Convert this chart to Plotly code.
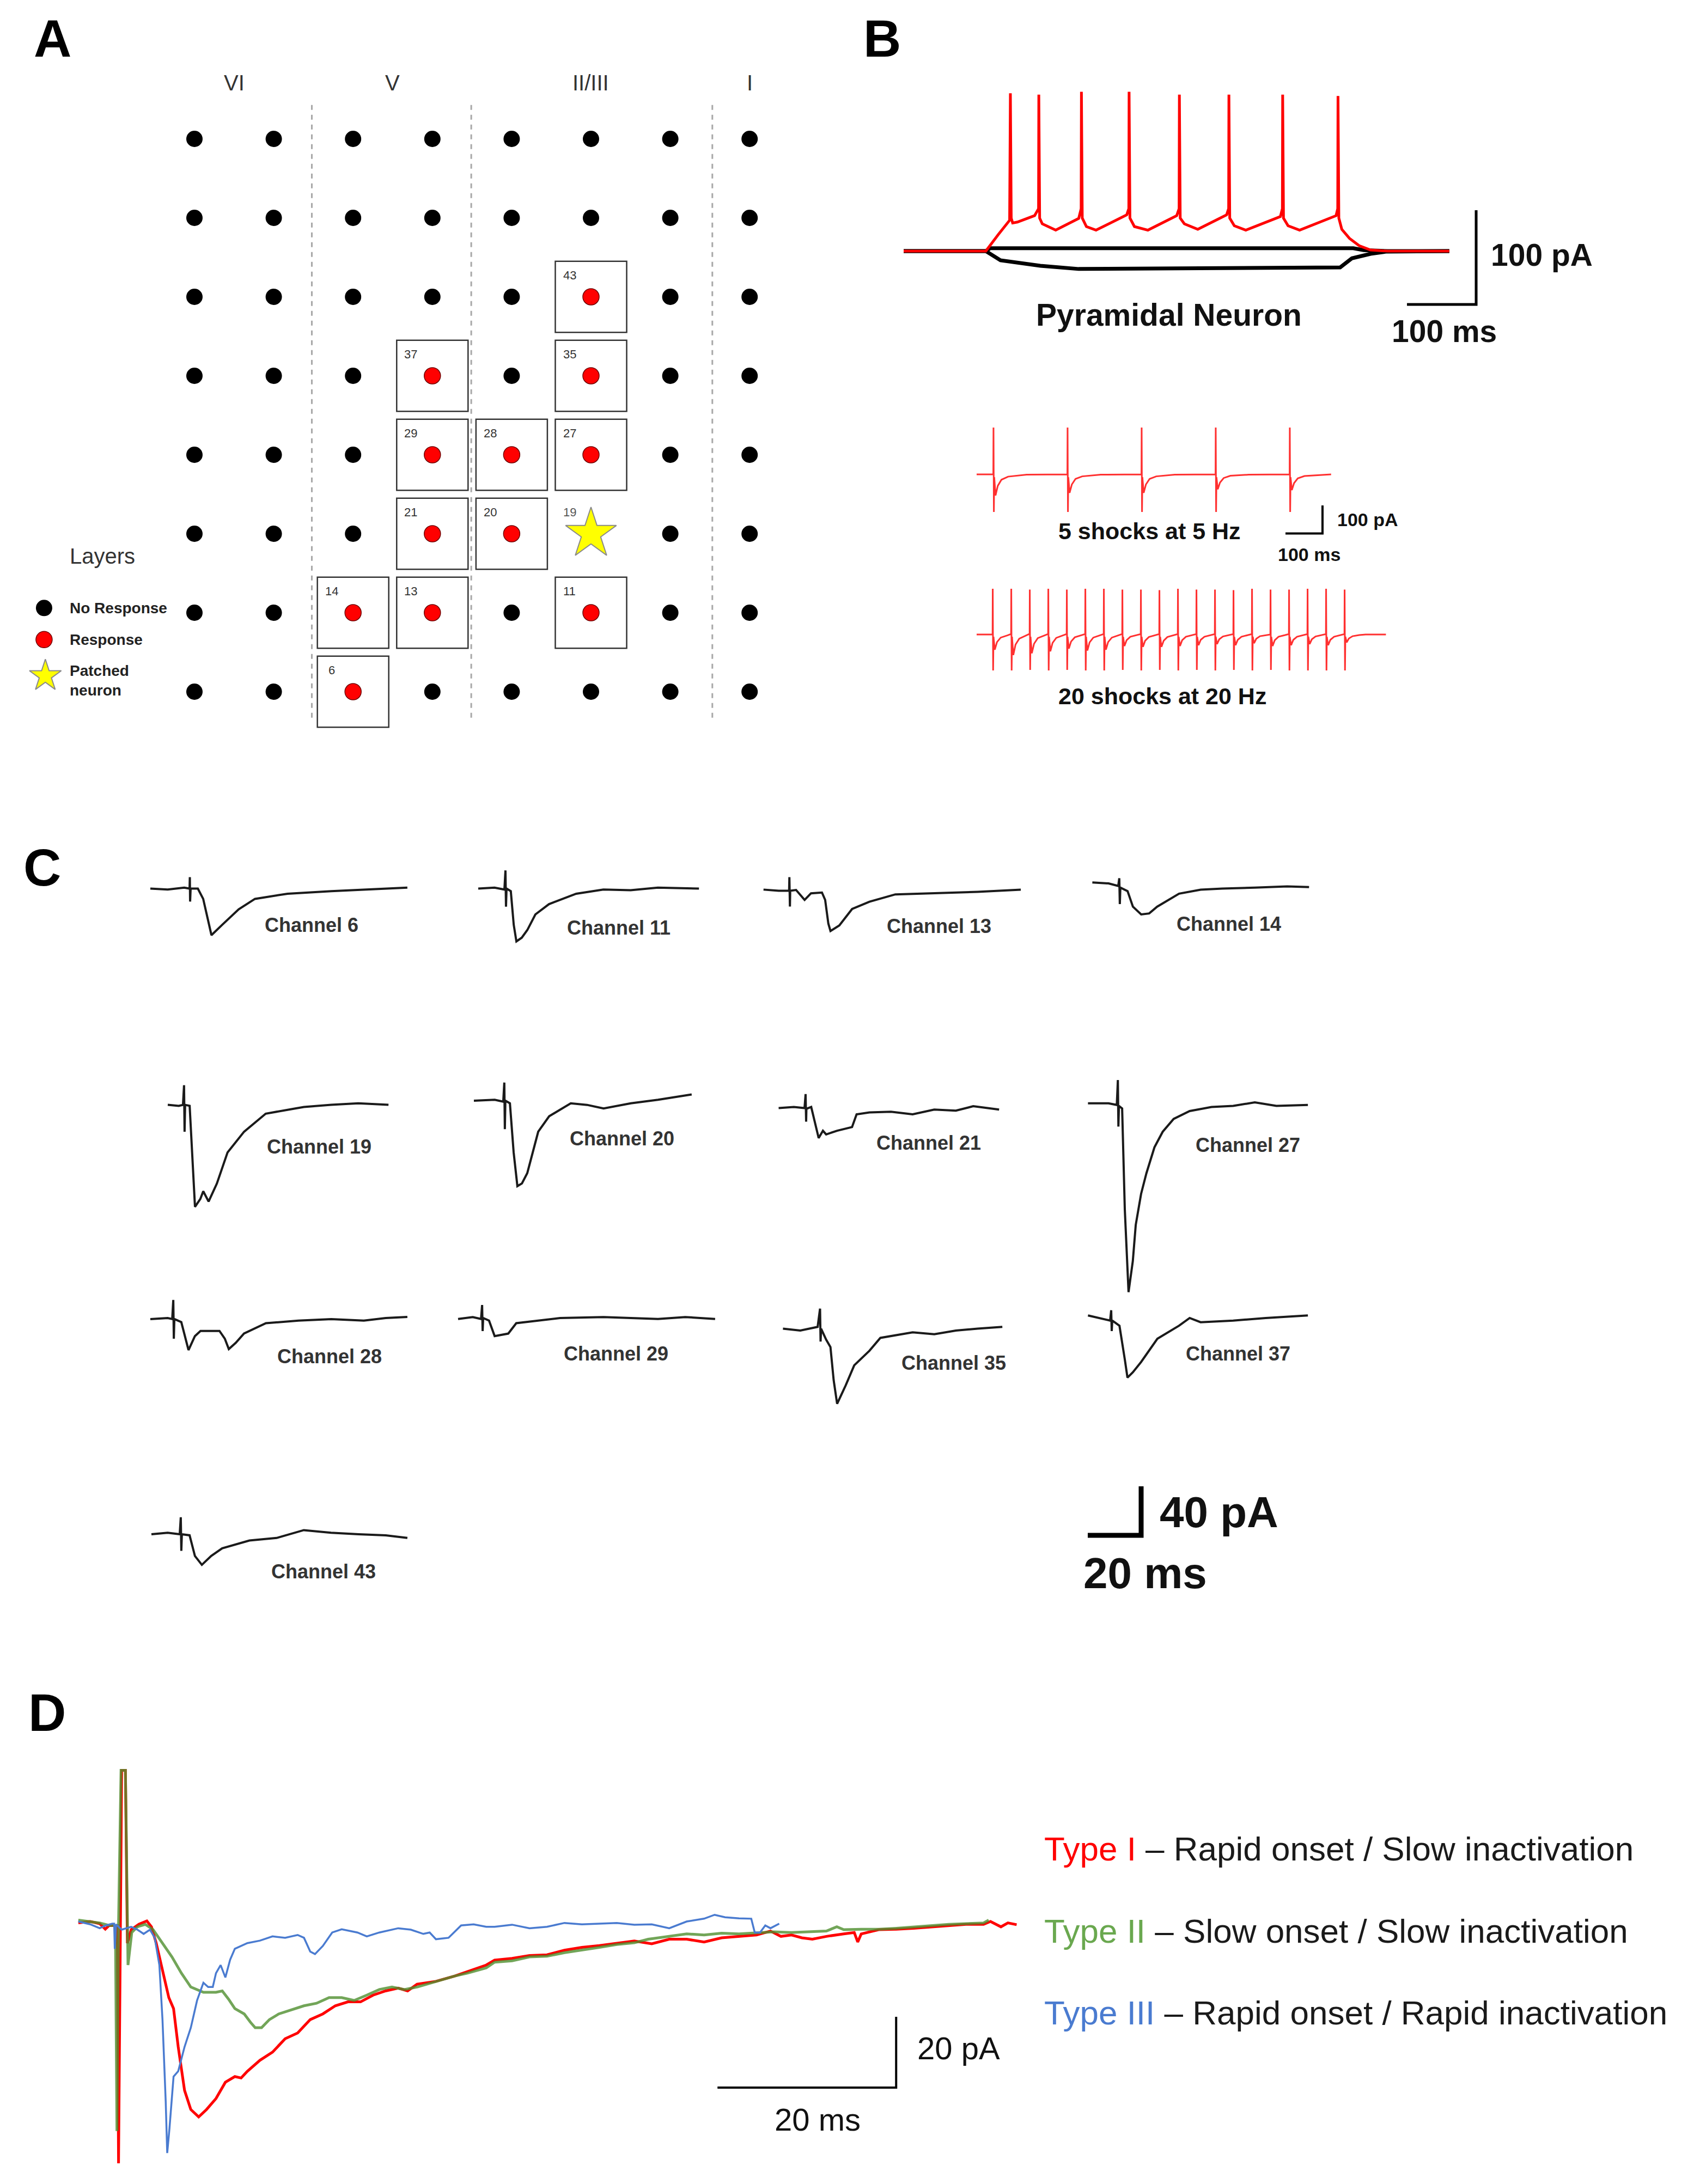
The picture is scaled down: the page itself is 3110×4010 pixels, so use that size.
import plotly.graph_objects as go

W, H = 3110, 4010
FONT = "Liberation Sans, Arial, sans-serif"

# ---------------- Panel A data (grid columns 1..8, rows 1..8 from top) ----------------
A_COLS = [1, 2, 3, 4, 5, 6, 7, 8]
A_ROWS = [1, 2, 3, 4, 5, 6, 7, 8]
A_LAYER_NAMES = ["VI", "V", "II/III", "I"]
A_LAYER_CENTERS = [1.5, 3.5, 6.0, 8.0]
A_LAYER_BOUNDS = [2.48, 4.49, 7.53]
A_RESP_COL = [6, 4, 6, 4, 5, 6, 4, 5, 3, 4, 6, 3]
A_RESP_ROW = [3, 4, 4, 5, 5, 5, 6, 6, 7, 7, 7, 8]
A_RESP_CH = [43, 37, 35, 29, 28, 27, 21, 20, 14, 13, 11, 6]
A_PATCH_COL, A_PATCH_ROW, A_PATCH_CH = 6, 6, 19
A_LEGEND = ["No Response", "Response", "Patched<br>neuron"]

# ---------------- Panel B data (ms, pA) ----------------
B_RED = [(0, 0), (118.8, 0), (136.6, 17.3), (153.2, 32.7), (154.3, 167.5), (155.5, 35), (157.6, 29.8),
         (164.3, 30.8), (189.3, 37.6), (195.0, 45), (195.4, 166), (196.6, 35), (200.4, 28.9),
         (219.8, 22.2), (253.1, 34.7), (256.6, 45), (257.0, 169), (258.2, 35), (264.2, 26),
         (278.1, 22.2), (322.5, 38.5), (325.5, 45), (325.9, 169), (327.1, 35), (333.6, 26),
         (353.1, 22.2), (394.7, 37.6), (398.2, 45), (398.6, 166), (399.8, 35), (405.8, 28.9),
         (425.2, 23.1), (466.9, 38.5), (469.8, 45), (470.2, 166), (471.4, 35), (478.0, 26.9),
         (494.6, 22.2), (544.6, 36.6), (547.5, 45), (547.9, 166), (549.1, 35), (555.7, 26.9),
         (572.4, 22.2), (625.1, 37.6), (627.5, 45), (627.9, 164.6), (629.1, 35), (633.4, 23.1),
         (644.5, 13.5), (658.4, 5.8), (675.0, 1.1), (700.0, 0), (788.8, 0)]
B_BLACK_UP = [(0, 0), (118.8, 0), (125, 3), (650, 3), (665, 1), (700, 0), (788.8, 0)]
B_BLACK_DOWN = [(0, 0), (118.8, 0), (140, -9.8), (197.6, -15.6), (253, -19), (631, -17.4),
                (648, -7.7), (675, -2.9), (697, -0.6), (788.8, 0)]
B_TOP_BAR = (827.6, -56.6, 100, 100)   # corner ms, corner pA, length ms, length pA

B_5HZ = [(0, 0),
         (45, 0), (45.5, 167), (46.5, -134), (47.5, -10), (51, -75), (57, -41), (67, -19), (85, -8), (135, -1),
         (245, 0), (245.5, 167), (246.5, -134), (247.5, -10), (251, -66), (257, -36), (267, -16), (285, -7), (335, -1),
         (445, 0), (445.5, 167), (446.5, -134), (447.5, -10), (451, -66), (457, -36), (467, -16), (485, -7), (535, -1),
         (645, 0), (645.5, 167), (646.5, -134), (647.5, -10), (651, -53), (657, -29), (667, -13), (685, -5), (735, -1),
         (845, 0), (845.5, 167), (846.5, -134), (847.5, -10), (851, -56), (857, -31), (867, -14), (885, -6), (935, -1),
         (957, 0)]
B_SMALL_BAR = (933.8, -210.7, 100, 100)

B_20HZ = [(0, 0),
          (43, 0), (43.5, 163), (44.5, -128), (45.5, -8), (49, -54), (55, -27), (65, -11), (83, -3), (91, 1),
          (93, 0), (93.5, 163), (94.5, -128), (95.5, -8), (99, -73), (105, -36), (115, -15), (133, -4), (141, 1),
          (143, 0), (143.5, 160), (144.5, -126), (145.5, -8), (149, -67), (155, -33), (165, -13), (183, -3), (191, 1),
          (193, 0), (193.5, 163), (194.5, -128), (195.5, -8), (199, -60), (205, -30), (215, -12), (233, -3), (241, 1),
          (243, 0), (243.5, 160), (244.5, -126), (245.5, -8), (249, -50), (255, -25), (265, -10), (283, -3), (291, 1),
          (293, 0), (293.5, 163), (294.5, -128), (295.5, -8), (299, -57), (305, -28), (315, -11), (333, -3), (341, 1),
          (343, 0), (343.5, 163), (344.5, -128), (345.5, -8), (349, -54), (355, -27), (365, -11), (383, -3), (391, 1),
          (393, 0), (393.5, 160), (394.5, -126), (395.5, -8), (399, -41), (405, -20), (415, -8), (433, -2), (441, 1),
          (443, 0), (443.5, 160), (444.5, -128), (445.5, -8), (449, -44), (455, -22), (465, -9), (483, -2), (491, 1),
          (493, 0), (493.5, 158), (494.5, -126), (495.5, -8), (499, -44), (505, -22), (515, -9), (533, -2), (541, 1),
          (543, 0), (543.5, 163), (544.5, -128), (545.5, -8), (549, -41), (555, -20), (565, -8), (583, -2), (591, 1),
          (593, 0), (593.5, 160), (594.5, -126), (595.5, -8), (599, -38), (605, -19), (615, -8), (633, -2), (641, 1),
          (643, 0), (643.5, 160), (644.5, -128), (645.5, -8), (649, -34), (655, -17), (665, -7), (683, -2), (691, 1),
          (693, 0), (693.5, 158), (694.5, -126), (695.5, -8), (699, -38), (705, -19), (715, -8), (733, -2), (741, 1),
          (743, 0), (743.5, 163), (744.5, -128), (745.5, -8), (749, -31), (755, -15), (765, -6), (783, -2), (791, 1),
          (793, 0), (793.5, 160), (794.5, -126), (795.5, -8), (799, -41), (805, -20), (815, -8), (833, -2), (841, 1),
          (843, 0), (843.5, 160), (844.5, -128), (845.5, -8), (849, -38), (855, -19), (865, -8), (883, -2), (891, 1),
          (893, 0), (893.5, 163), (894.5, -128), (895.5, -8), (899, -34), (905, -17), (915, -7), (933, -2), (941, 1),
          (943, 0), (943.5, 163), (944.5, -128), (945.5, -8), (949, -38), (955, -19), (965, -8), (983, -2), (991, 1),
          (993, 0), (993.5, 160), (994.5, -128), (995.5, -8), (999, -28), (1005, -14), (1015, -6), (1033, -2), (1050, 0),
          (1105, 0)]

# ---------------- Panel C data (ms from trace start, pA from baseline) ----------------
CH6 = [(0, 0), (6.5, -0.8), (12.7, 0.8), (14.7, 0), (14.8, 9.3), (14.9, -10.6), (15.1, 0), (17.8, 0), (19.8, -8.4),
       (22.9, -38.0), (26.9, -29.6), (33.1, -16.9), (39.2, -8.4), (51.4, -4.2), (67.8, -2.1), (80.0, -0.8), (96.3, 0.8)]
CH11 = [(0, 0), (6.1, 0.8), (9.8, -0.8), (10.2, 14.8), (10.4, -14.8), (10.6, 0), (12.2, -2.1), (13.3, -29.6),
        (14.3, -43.1), (16.3, -40.1), (18.4, -33.8), (21.4, -21.1), (26.5, -12.7), (36.7, -4.2), (46.9, -0.8),
        (57.1, -1.3), (67.3, 0.8), (82.7, 0)]
CH13 = [(0, 0.9), (5.7, 0), (9.6, 0), (9.7, 11.1), (9.9, -12.9), (10.0, 0), (12.2, 0.6), (15.4, -7.5), (17.8, -2.1),
        (21.9, -1.5), (23.1, -7.5), (24.3, -26.9), (25.1, -32.9), (28.4, -28.4), (33.2, -14.9), (39.7, -9.0),
        (49.4, -3.0), (64.0, -2.1), (80.2, -0.9), (96.4, 0.9)]
CH14 = [(0, 0.8), (6.1, 0), (9.7, -2.1), (10.1, 4.2), (10.3, -16.9), (10.5, -3.4), (13.2, -6.3), (15.2, -19.0),
        (18.3, -25.3), (21.3, -24.5), (24.3, -19.0), (32.5, -8.4), (40.6, -5.1), (48.7, -4.2), (60.9, -3.4),
        (73.0, -2.5), (81.2, -3.0)]
CH19 = [(0, 0), (4.1, -0.8), (5.7, 0), (6.1, 16.0), (6.3, -21.9), (6.5, 0), (8.2, -0.8), (9.2, -38.8), (10.2, -83.2),
        (12.2, -76.8), (13.3, -70.5), (15.3, -78.9), (18.4, -64.2), (22.4, -38.8), (28.6, -21.9), (36.7, -7.2),
        (51.0, -1.7), (61.2, 0), (71.4, 1.3), (82.7, 0)]
CH20 = [(0, 0), (7.8, 0.8), (11.0, -0.8), (11.4, 14.8), (11.6, -23.2), (11.8, 0), (13.5, -2.1), (14.9, -42.2),
        (16.3, -69.7), (18.0, -67.5), (20.0, -59.1), (24.1, -25.3), (28.2, -12.7), (36.3, -2.1), (42.4, -3.4),
        (48.6, -6.3), (58.8, -2.1), (69.0, 0.8), (81.6, 5.1)]
CH21 = [(0, 0), (5.7, 0.9), (9.7, 0), (10.1, 11.4), (10.3, -11.1), (10.4, -0.6), (12.2, 0.9), (13.4, -9.6),
        (15.0, -24.5), (16.6, -18.5), (17.8, -21.5), (21.9, -18.5), (25.9, -16.1), (27.5, -15.5), (29.2, -5.1),
        (34.0, -3.6), (42.1, -3.0), (50.2, -5.1), (58.3, -1.2), (66.4, -2.1), (72.9, 1.5), (82.6, -1.2)]
CH27 = [(0, 0), (7.7, 0), (10.8, -1.3), (11.2, 19.0), (11.4, -19.0), (11.6, -2.1), (12.8, -4.2), (13.8, -86.6),
        (15.2, -154.1), (16.8, -128.8), (17.9, -99.2), (19.9, -73.9), (21.9, -57.0), (24.9, -35.9), (28.0, -23.2),
        (32.1, -12.7), (38.1, -6.3), (46.3, -3.0), (54.4, -2.1), (62.5, 0.8), (70.6, -2.1), (82.4, -1.3)]
CH28 = [(0, 0), (6.5, 0.8), (8.2, 0), (8.6, 15.6), (8.8, -16.0), (9.0, 0), (11.6, -2.5), (14.3, -25.3), (16.7, -13.9),
        (18.8, -9.7), (25.9, -9.7), (27.9, -16.0), (29.4, -24.5), (32.0, -19.4), (35.1, -11.8), (43.3, -3.4),
        (55.5, -1.3), (67.8, 0), (80.0, -1.3), (88.2, 0.8), (96.3, 1.7)]
CH29 = [(0, -0.8), (5.5, 0.8), (8.6, -0.8), (9.0, 10.6), (9.2, -10.6), (9.4, 0), (11.6, -2.1), (13.7, -14.8),
        (18.8, -12.7), (21.8, -4.2), (30.0, -2.1), (38.2, 0), (54.5, 0.8), (74.9, -0.8), (85.1, 0.8), (96.3, -0.8)]
CH35 = [(0, 0), (6.5, -1.5), (13.0, 1.5), (13.9, 16.4), (14.1, -10.5), (14.3, 0), (16.2, -9.0), (17.8, -15.0),
        (19.0, -41.9), (20.3, -61.3), (21.9, -53.8), (23.5, -46.3), (26.7, -29.9), (32.4, -18.0), (36.5, -7.5),
        (42.1, -5.4), (48.6, -3.0), (56.7, -4.5), (64.8, -1.5), (72.9, 0), (82.2, 1.5)]
CH37 = [(0, 2.1), (5.7, -0.8), (8.3, -2.1), (8.7, 6.3), (8.9, -10.6), (9.1, -2.1), (11.8, -6.3), (13.8, -33.8),
        (14.8, -48.6), (16.8, -44.3), (19.9, -35.9), (26.0, -16.9), (34.1, -6.3), (38.1, 0), (42.2, -3.4),
        (54.4, -2.1), (66.6, 0), (82.4, 2.1)]
CH43 = [(0, 0), (6.1, 1.3), (10.6, 0), (11.0, 13.9), (11.2, -13.5), (11.4, 0), (14.3, -0.8), (16.3, -17.7),
        (18.9, -24.9), (22.4, -17.7), (26.5, -11.4), (36.7, -5.1), (46.9, -3.0), (57.1, 3.4), (67.3, 1.3),
        (77.6, 0), (87.8, -0.8), (95.9, -3.0)]
C_CHANNELS = [6, 11, 13, 14, 19, 20, 21, 27, 28, 29, 35, 37, 43]
C_TRACES = [CH6, CH11, CH13, CH14, CH19, CH20, CH21, CH27, CH28, CH29, CH35, CH37, CH43]
C_BAR = (20, 40)   # ms, pA

# ---------------- Panel D data (ms, pA) ----------------
D_TYPE1 = [(0.05, -0.07), (1.38, 0.31), (2.44, -0.31), (3.07, -1.84), (3.49, -0.84), (4.41, -0.84), (4.55, -68.0),
           (4.73, -0.46), (4.90, 43.0), (5.32, 43.0), (5.54, -5.84), (5.96, -2.0), (6.84, -0.46), (7.72, 0.46),
           (8.24, -1.23), (8.77, -5.84), (9.47, -13.5), (10.18, -21.2), (10.71, -24.3), (11.23, -35.1), (11.94, -47.4),
           (12.64, -52.8), (13.52, -54.9), (14.40, -52.8), (15.46, -49.7), (16.51, -45.1), (17.57, -43.5),
           (18.27, -43.9), (18.97, -42.0), (20.38, -38.9), (21.79, -36.6), (23.20, -32.8), (24.60, -31.2),
           (26.01, -27.4), (27.42, -25.8), (28.82, -23.5), (30.23, -22.4), (31.64, -22.4), (33.05, -20.5),
           (34.45, -19.3), (35.86, -18.5), (36.91, -19.3), (37.97, -17.4), (40.08, -16.6), (42.19, -15.1),
           (43.60, -13.9), (45.71, -12.0), (46.65, -10.6), (48.60, -10.1), (50.56, -9.3), (52.51, -9.1),
           (54.47, -7.8), (56.42, -7.0), (58.38, -6.5), (60.33, -5.8), (62.29, -5.2), (64.24, -6.0), (66.20, -4.7),
           (68.15, -4.7), (70.10, -5.5), (72.06, -4.3), (74.01, -3.9), (75.97, -3.5), (77.53, -2.4), (78.70, -3.9),
           (79.88, -3.5), (81.05, -4.3), (82.22, -4.7), (83.79, -3.9), (85.74, -3.2), (86.91, -2.8), (87.30, -5.5),
           (87.69, -3.2), (89.65, -2.0), (91.60, -1.9), (93.56, -1.6), (95.51, -1.2), (97.47, -0.8), (99.42, -0.5),
           (101.38, -0.5), (102.16, 0.3), (103.33, -1.2), (104.11, -0.1), (105.09, -0.6)]
D_TYPE2 = [(0.05, 0.7), (1.38, 0.3), (2.44, -0.1), (3.49, -0.8), (4.20, -0.8), (4.37, -58.9), (4.55, -0.5),
           (4.83, 43.0), (5.32, 43.0), (5.61, -12.0), (6.03, -2.8), (6.66, -1.2), (7.54, -0.5), (8.42, -2.0),
           (9.47, -5.8), (10.53, -9.7), (11.59, -14.3), (12.64, -18.2), (14.05, -19.7), (15.46, -19.7),
           (16.16, -19.3), (16.86, -21.6), (17.57, -24.3), (18.62, -25.8), (19.33, -28.2), (19.85, -29.7),
           (20.56, -29.7), (21.44, -27.4), (22.49, -25.8), (23.90, -24.7), (25.31, -23.5), (26.71, -22.8),
           (28.12, -21.2), (29.53, -21.2), (30.93, -22.0), (32.34, -20.5), (33.75, -18.9), (35.16, -18.2),
           (36.56, -18.9), (37.97, -18.2), (40.08, -16.6), (42.19, -15.1), (43.60, -14.3), (45.71, -12.8),
           (46.65, -11.2), (48.60, -10.8), (50.56, -9.7), (52.51, -9.5), (54.47, -8.5), (56.42, -7.8), (58.38, -7.0),
           (60.33, -6.2), (62.29, -5.7), (63.85, -4.7), (66.20, -3.9), (68.15, -3.2), (70.10, -3.5), (72.06, -3.0),
           (74.01, -3.2), (75.97, -2.9), (77.92, -2.6), (79.88, -2.8), (81.83, -2.6), (83.79, -2.4), (84.96, -1.2),
           (85.74, -2.0), (87.69, -1.9), (89.65, -1.9), (91.60, -1.6), (93.56, -1.2), (95.51, -0.8), (97.47, -0.5),
           (99.42, -0.3), (101.38, -0.1), (101.96, 0.7)]
D_TYPE3 = [(0.05, 0.3), (1.38, -0.5), (2.44, -1.6), (3.14, -0.8), (3.85, -0.3), (4.06, -0.3), (4.13, -7.4),
           (4.27, -0.5), (4.90, -2.0), (5.96, -1.2), (6.66, -2.0), (7.36, -3.2), (8.07, -2.0), (8.60, -4.3),
           (9.12, -12.0), (9.47, -27.4), (9.83, -50.5), (10.00, -65.1), (10.25, -58.2), (10.71, -43.5),
           (11.23, -42.0), (11.94, -35.1), (12.64, -29.7), (13.34, -22.0), (14.05, -17.0), (14.58, -18.2),
           (15.10, -18.2), (15.46, -14.3), (15.98, -12.0), (16.51, -15.5), (17.04, -10.5), (17.57, -7.4),
           (18.97, -5.8), (20.38, -5.1), (21.79, -3.9), (23.20, -4.3), (24.60, -3.5), (25.31, -4.3), (26.01, -8.2),
           (26.54, -8.9), (27.42, -6.6), (28.47, -2.8), (29.53, -1.9), (31.29, -2.8), (32.34, -3.9), (33.75, -2.8),
           (35.86, -1.6), (37.27, -2.0), (38.67, -3.2), (39.38, -2.8), (40.08, -4.7), (41.49, -4.3), (42.90, -0.8),
           (44.30, -0.5), (45.71, -1.2), (46.65, -1.2), (48.60, -0.6), (50.56, -1.6), (52.51, -1.2), (54.47, -0.1),
           (56.42, -0.5), (58.38, -0.3), (60.33, -0.1), (62.29, -0.6), (64.24, -0.5), (66.20, -1.6), (68.15, 0.3),
           (70.10, 1.1), (71.28, 2.2), (72.45, 1.5), (74.01, 1.2), (75.38, 1.1), (75.77, -2.8), (76.36, -2.8),
           (76.95, -0.8), (77.53, -1.6), (78.51, -0.3)]
D_BAR = (91.6, -46.6, 20, 20)
D_LABELS = [("Type I", "#ff0000", " – Rapid onset / Slow inactivation"),
            ("Type II", "#6aa84f", " – Slow onset / Slow inactivation"),
            ("Type III", "#4a7bd0", " – Rapid onset / Rapid inactivation")]

# ======================= layout helpers =======================
layout = dict(width=W, height=H, margin=dict(l=0, r=0, t=0, b=0), paper_bgcolor="white",
              plot_bgcolor="rgba(0,0,0,0)", showlegend=False, font=dict(family=FONT))
shapes, annotations = [], []
fig = go.Figure()


def refs(i):
    return ("x", "y") if i == 1 else (f"x{i}", f"y{i}")


def set_axes(i, xdom, ydom, xr, yr):
    xa = "xaxis" if i == 1 else f"xaxis{i}"
    ya = "yaxis" if i == 1 else f"yaxis{i}"
    rx, ry = refs(i)
    layout[xa] = dict(domain=[xdom[0] / W, xdom[1] / W], range=xr, visible=False, fixedrange=True, anchor=ry)
    layout[ya] = dict(domain=[1 - ydom[1] / H, 1 - ydom[0] / H], range=yr, visible=False, fixedrange=True, anchor=rx)


def scaled_axes(i, xdom, ydom, x0, xs, y0, ys):
    set_axes(i, xdom, ydom, [(xdom[0] - x0) / xs, (xdom[1] - x0) / xs], [(y0 - ydom[1]) / ys, (y0 - ydom[0]) / ys])


def line_trace(i, pts, color, width, opacity=1.0):
    rx, ry = refs(i)
    fig.add_trace(go.Scatter(x=[p[0] for p in pts], y=[p[1] for p in pts], mode="lines",
                             line=dict(color=color, width=width), opacity=opacity,
                             xaxis=rx, yaxis=ry, hoverinfo="skip"))


def bar_trace(i, bar, width):
    cx, cy, lx, ly = bar
    rx, ry = refs(i)
    fig.add_trace(go.Scatter(x=[cx - lx, cx, cx], y=[cy, cy, cy + ly], mode="lines",
                             line=dict(color="black", width=width), xaxis=rx, yaxis=ry, hoverinfo="skip"))


def text(x, y, s, size, color="#111", bold=False, xanchor="center", family=FONT):
    annotations.append(dict(x=x / W, y=1 - y / H, xref="paper", yref="paper",
                            text=f"<b>{s}</b>" if bold else s, showarrow=False,
                            font=dict(size=size, color=color, family=family),
                            xanchor=xanchor, yanchor="middle"))


# ======================= Panel A =======================
set_axes(1, (14.1, 1441.0), (102.0, 1407.0), [-1.3, 8.5], [9, 0])
resp = set(zip(A_RESP_COL, A_RESP_ROW))
bx, by = [], []
for r in A_ROWS:
    for c in A_COLS:
        if (c, r) not in resp and (c, r) != (A_PATCH_COL, A_PATCH_ROW):
            bx.append(c)
            by.append(r)
for b in A_LAYER_BOUNDS:
    shapes.append(dict(type="line", xref="x", yref="y", x0=b, x1=b, y0=0.57, y1=8.36,
                       line=dict(color="#a8a8a8", width=3, dash="dash"), layer="below"))
for c, r, ch in zip(A_RESP_COL, A_RESP_ROW, A_RESP_CH):
    shapes.append(dict(type="rect", xref="x", yref="y", x0=c - 0.45, x1=c + 0.45, y0=r - 0.45, y1=r + 0.45,
                       line=dict(color="#333333", width=2.5), fillcolor="rgba(0,0,0,0)", layer="below"))
    annotations.append(dict(x=c - 0.27, y=r - 0.27, xref="x", yref="y", text=str(ch), showarrow=False,
                            font=dict(size=22, color="#333", family=FONT)))
annotations.append(dict(x=A_PATCH_COL - 0.27, y=A_PATCH_ROW - 0.27, xref="x", yref="y", text=str(A_PATCH_CH),
                        showarrow=False, font=dict(size=22, color="#555", family=FONT)))
fig.add_trace(go.Scatter(x=bx, y=by, mode="markers", marker=dict(size=30, color="black"), xaxis="x", yaxis="y",
                         hoverinfo="skip"))
fig.add_trace(go.Scatter(x=A_RESP_COL, y=A_RESP_ROW, mode="markers",
                         marker=dict(size=30, color="#ff0000", line=dict(color="#700000", width=1.5)),
                         xaxis="x", yaxis="y", hoverinfo="skip"))
fig.add_trace(go.Scatter(x=[A_PATCH_COL], y=[A_PATCH_ROW], mode="markers",
                         marker=dict(size=70, symbol="star", color="#ffff00", line=dict(color="#8a8a8a", width=2)),
                         xaxis="x", yaxis="y", hoverinfo="skip"))
for name, cx in zip(A_LAYER_NAMES, A_LAYER_CENTERS):
    annotations.append(dict(x=cx, y=0.29, xref="x", yref="y", text=name, showarrow=False,
                            font=dict(size=40, color="#333", family=FONT)))
# legend
fig.add_trace(go.Scatter(x=[-0.896, -0.896], y=[6.94, 7.34], mode="markers",
                         marker=dict(size=30, color=["black", "#ff0000"], line=dict(color="#700000", width=[0, 1.5])),
                         xaxis="x", yaxis="y", hoverinfo="skip"))
fig.add_trace(go.Scatter(x=[-0.88], y=[7.8], mode="markers",
                         marker=dict(size=44, symbol="star", color="#ffff00", line=dict(color="#8a8a8a", width=2)),
                         xaxis="x", yaxis="y", hoverinfo="skip"))
annotations.append(dict(x=-0.16, y=6.28, xref="x", yref="y", text="Layers", showarrow=False,
                        font=dict(size=40, color="#333", family=FONT)))
for lab, ry in zip(A_LEGEND, [6.94, 7.34, 7.86]):
    annotations.append(dict(x=-0.587, y=ry, xref="x", yref="y", text=f"<b>{lab}</b>", showarrow=False,
                            xanchor="left", align="left", font=dict(size=28, color="#222", family=FONT)))

# ======================= Panel B =======================
scaled_axes(2, (1600, 2950), (120, 640), 1651, 1.27, 453, 1.73)
line_trace(2, B_BLACK_DOWN, "black", 7)
line_trace(2, B_BLACK_UP, "black", 7)
line_trace(2, B_RED, "#ff0000", 5)
bar_trace(2, B_TOP_BAR, 5)
text(2138, 570, "Pyramidal Neuron", 57, bold=True)
text(2822, 460, "100 pA", 57, bold=True)
text(2643, 600, "100 ms", 57, bold=True)

scaled_axes(3, (1700, 2650), (760, 1000), 1785, 0.68, 863, 0.515)
line_trace(3, B_5HZ, "#ff3030", 3)
bar_trace(3, B_SMALL_BAR, 4)
text(2102, 967, "5 shocks at 5 Hz", 43, bold=True)
text(2503, 946, "100 pA", 34, bold=True)
text(2395, 1010, "100 ms", 34, bold=True)

scaled_axes(4, (1700, 2650), (1040, 1240), 1785, 0.68, 1157, 0.515)
line_trace(4, B_20HZ, "#ff3030", 3)
text(2126, 1270, "20 shocks at 20 Hz", 43, bold=True)

# ======================= Panel C =======================
C_POS = [(268, 1623.5, 564, 1690), (870, 1623.5, 1128, 1695), (1393.7, 1627.4, 1716, 1692), (1997.4, 1614, 2248, 1688),
         (300, 2020.6, 578, 2097), (862, 2013, 1134, 2082), (1421.5, 2026.5, 1697, 2090), (1989.4, 2017.8, 2283, 2094),
         (268, 2413.9, 597, 2482), (833, 2412, 1123, 2477), (1429.4, 2431.6, 1743, 2494), (1989.4, 2412, 2265, 2477),
         (270, 2809.1, 586, 2877)]
for k, (ch, pts, pos) in enumerate(zip(C_CHANNELS, C_TRACES, C_POS)):
    i = 5 + k
    x0, y0, lx, ly = pos
    scaled_axes(i, (x0 - 10, x0 + 500), (y0 - 60, y0 + 370), x0, 4.9, y0, 2.25)
    line_trace(i, pts, "#1a1a1a", 4)
    text(lx, ly, f"Channel {ch}", 36, color="#333", bold=True)
scaled_axes(18, (1960, 2120), (2700, 2830), 1989, 4.9, 2811, 2.25)
bar_trace(18, (C_BAR[0], 0, C_BAR[0], C_BAR[1]), 9)
text(2230, 2768, "40 pA", 80, bold=True)
text(2094, 2880, "20 ms", 80, bold=True)

# ======================= Panel D =======================
scaled_axes(19, (100, 1950), (3200, 4000), 135, 16.4, 3522, 6.5)
line_trace(19, D_TYPE1, "#ff0000", 5)
line_trace(19, D_TYPE2, "#4f8f2f", 5, opacity=0.8)
line_trace(19, D_TYPE3, "#4a7bd0", 3.5)
bar_trace(19, D_BAR, 4)
text(1752, 3752, "20 pA", 58, color="#111")
text(1493, 3883, "20 ms", 58, color="#111")
for (name, col, rest), yy in zip(D_LABELS, [3386, 3537, 3687]):
    text(1907, yy, f"<span style='color:{col}'>{name}</span>{rest}", 62, color="#1a1a1a", xanchor="left")

# ======================= Panel letters =======================
text(88, 63, "A", 96, color="black", bold=True)
text(1611, 63, "B", 96, color="black", bold=True)
text(69, 1584, "C", 96, color="black", bold=True)
text(78, 3136, "D", 96, color="black", bold=True)

layout["shapes"] = shapes
layout["annotations"] = annotations
fig.update_layout(**layout)
fig.write_html("out.html")
